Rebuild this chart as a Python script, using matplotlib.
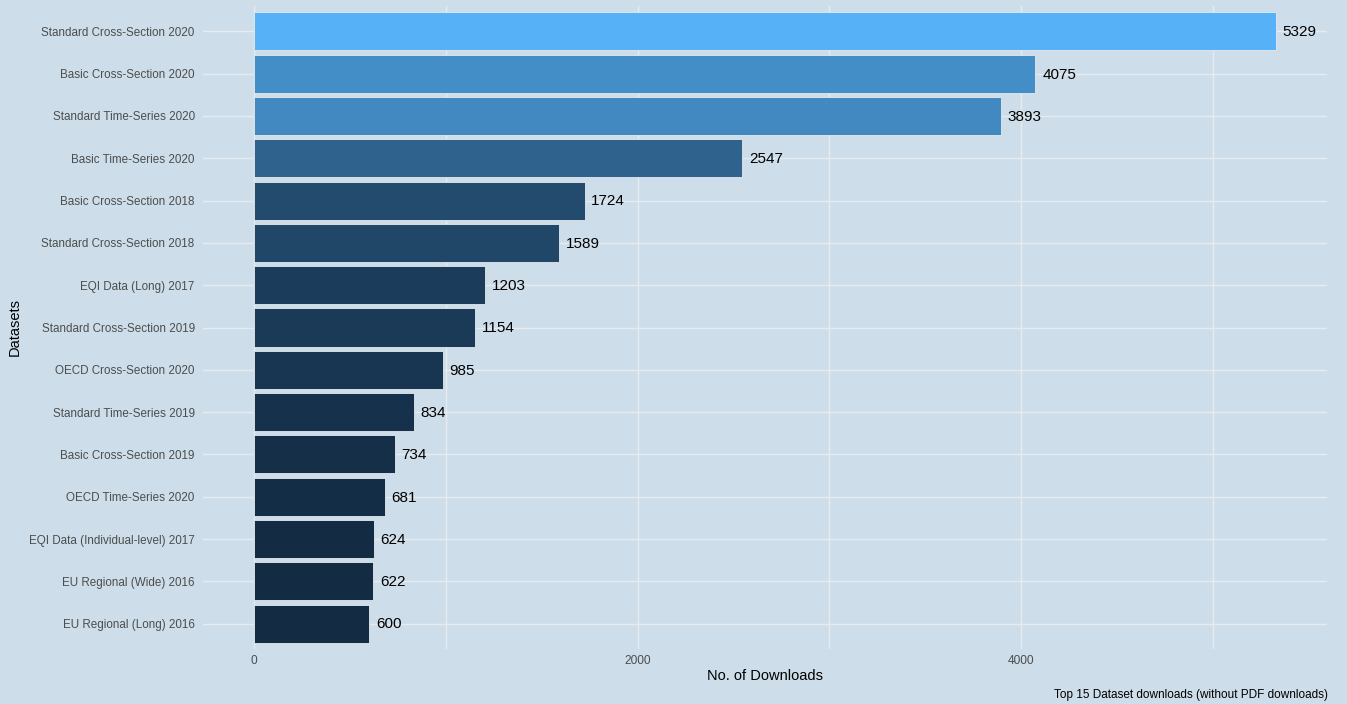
import matplotlib
matplotlib.use("Agg")
import matplotlib.pyplot as plt
from matplotlib.colors import LinearSegmentedColormap, Normalize
import numpy as np

# top 15 datasets, smallest first (bottom of chart)
datasets = [
    "EU Regional (Long) 2016",
    "EU Regional (Wide) 2016",
    "EQI Data (Individual-level) 2017",
    "OECD Time-Series 2020",
    "Basic Cross-Section 2019",
    "Standard Time-Series 2019",
    "OECD Cross-Section 2020",
    "Standard Cross-Section 2019",
    "EQI Data (Long) 2017",
    "Standard Cross-Section 2018",
    "Basic Cross-Section 2018",
    "Basic Time-Series 2020",
    "Standard Time-Series 2020",
    "Basic Cross-Section 2020",
    "Standard Cross-Section 2020",
]
downloads = [600, 622, 624, 681, 734, 834, 985, 1154, 1203, 1589, 1724, 2547, 3893, 4075, 5329]
x_ticks = [0, 2000, 4000]
x_minor = [1000, 3000, 5000]

bg = "#CDDEEA"
grid_col = "#E6EBEF"
plt.rcParams["font.family"] = ["Liberation Sans", "DejaVu Sans"]

W, H = 1347, 704
fig = plt.figure(figsize=(W / 100, H / 100), dpi=100, facecolor=bg)
# panel in pixel coords: x 203..1327, y 6..649
ax = fig.add_axes([203 / W, 1 - 649 / H, (1327 - 203) / W, (649 - 6) / H], facecolor=bg)

cmap = LinearSegmentedColormap.from_list("gg", ["#132B43", "#56B1F7"])
norm = Normalize(vmin=min(downloads), vmax=max(downloads))
ypos = np.arange(1, len(datasets) + 1)

for x in x_ticks + x_minor:
    ax.axvline(x, color=grid_col, lw=1.0, zorder=0)
for y in ypos:
    ax.axhline(y, color=grid_col, lw=1.0, zorder=0)

ax.barh(ypos, downloads, height=0.9, color=cmap(norm(np.array(downloads))),
        edgecolor="#E4EAEE", linewidth=0.6, zorder=2)
for y, v in zip(ypos, downloads):
    ax.text(v + 35, y - 0.02, str(v), va="center", ha="left", fontsize=11, color="black", zorder=3)

span = max(downloads)
ax.set_xlim(-0.05 * span, 1.05 * span)
ax.set_ylim(0.4, len(datasets) + 0.6)
ax.set_xticks(x_ticks)
ax.set_yticks(ypos)
ax.set_yticklabels(datasets)
ax.tick_params(axis="y", length=0, pad=6, labelsize=8.4, labelcolor="#4D4D4D")
ax.tick_params(axis="x", length=0, pad=4, labelsize=8.6, labelcolor="#4D4D4D")
for s in ax.spines.values():
    s.set_visible(False)

ax.set_xlabel("No. of Downloads", fontsize=10.5, labelpad=2)
ax.set_ylabel("Datasets", fontsize=10.5, labelpad=5)
fig.text(1328 / W, 1 - 695 / H, "Top 15 Dataset downloads (without PDF downloads)",
         ha="right", va="center", fontsize=8.5, color="black")

fig.savefig("out.png", dpi=100, facecolor=bg)
